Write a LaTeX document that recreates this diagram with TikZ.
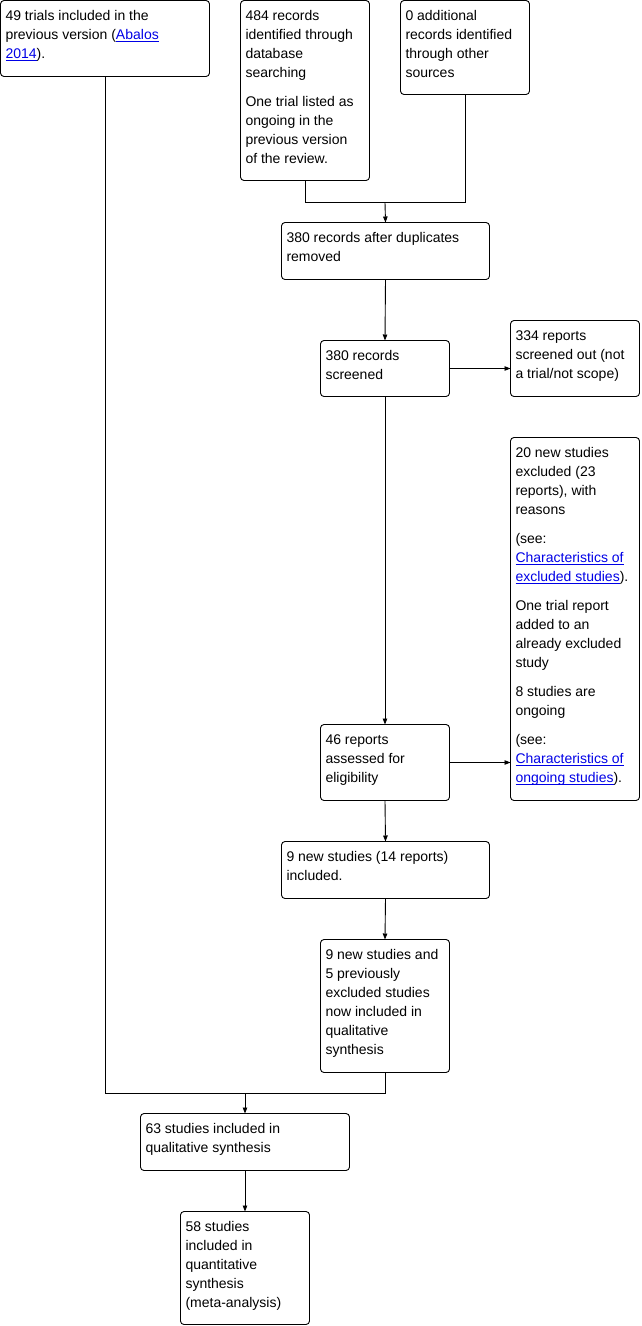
\documentclass[tikz,border=0pt]{standalone}
\usepackage{fontspec}
\setmainfont{Liberation Sans}
\usetikzlibrary{arrows.meta}
\definecolor{linkblue}{RGB}{0,0,230}
\newcommand{\lnk}[1]{\textcolor{linkblue}{\underline{\smash{#1}}}}
\newcommand{\bt}[3]{\makebox[#1pt][l]{\parbox[c][#2pt][t]{300pt}{\setlength{\parskip}{10pt}\setlength{\parindent}{0pt}\raggedright\rule{0pt}{20.2pt}#3}}}
\begin{document}
\begin{tikzpicture}[x=1pt,y=-1pt,
  box/.style={draw, rounded corners=3.5pt, anchor=north west, inner xsep=5pt, inner ysep=0pt, outer sep=0pt, line width=0.9pt, font=\fontsize{14}{19}\selectfont},
  conn/.style={line width=0.9pt},
  arr/.style={line width=0.9pt, -{Triangle[length=6pt,width=4.5pt]}}]
\useasboundingbox (0,0) rectangle (642,1326);
\node[box] (A) at (0.5,0.5) {\bt{199}{76}{49 trials included in the\\previous version (\lnk{Abalos}\\\lnk{2014}).}};
\node[box] (B) at (240.5,0.5) {\bt{119}{180}{484 records\\identified through\\database\\searching\par One trial listed as\\ongoing in the\\previous version\\of the review.}};
\node[box] (C) at (400.5,0.5) {\bt{119}{94}{0 additional\\records identified\\through other\\sources}};
\node[box] (D) at (281.5,222.5) {\bt{198}{57}{380 records after duplicates\\removed}};
\node[box] (E) at (320.5,340.5) {\bt{119}{56}{380 records\\screened}};
\node[box] (F) at (510.5,320.5) {\bt{119}{76}{334 reports\\screened out (not\\a trial/not scope)}};
\node[box] (G) at (510.5,437.5) {\bt{119}{363}{20 new studies\\excluded (23\\reports), with\\reasons\par (see:\\\lnk{Characteristics of}\\\lnk{excluded studies}).\par One trial report\\added to an\\already excluded\\study\par 8 studies are\\ongoing\par (see:\\\lnk{Characteristics of}\\\lnk{ongoing studies}).}};
\node[box] (H) at (320.5,724.5) {\bt{119}{76}{46 reports\\assessed for\\eligibility}};
\node[box] (I) at (281.5,841.5) {\bt{198}{57}{9 new studies (14 reports)\\included.}};
\node[box] (J) at (320.5,939.5) {\bt{119}{133}{9 new studies and\\5 previously\\excluded studies\\now included in\\qualitative\\synthesis}};
\node[box] (K) at (140.5,1113.5) {\bt{199}{57}{63 studies included in\\qualitative synthesis}};
\node[box] (L) at (180.5,1211.5) {\bt{119}{113}{58 studies\\included in\\quantitative\\synthesis\\(meta-analysis)}};
\coordinate (j1) at (385,202.5);
\coordinate (j2) at (245,1093.5);
\draw[conn] (B.south) |- (j1);
\draw[conn] (C.south) |- (j1);
\draw[arr] (j1) -- (D.north);
\draw[arr] (D.south) -- (E.north);
\draw[arr] (E.east) -- (E.east -| F.west);
\draw[arr] (E.south) -- (H.north);
\draw[arr] (H.east) -- (H.east -| G.west);
\draw[arr] (H.south) -- (I.north);
\draw[arr] (I.south) -- (J.north);
\draw[conn] (A.south) |- (j2);
\draw[conn] (J.south) |- (j2);
\draw[arr] (j2) -- (K.north);
\draw[arr] (K.south) -- (L.north);
\end{tikzpicture}
\end{document}
